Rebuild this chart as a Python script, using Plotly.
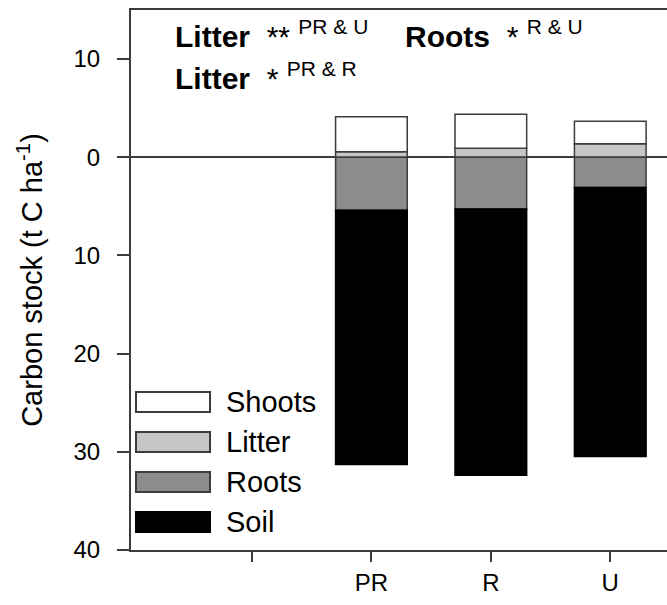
import plotly.graph_objects as go

# Carbon stock components per site (t C ha-1)
sites = ["PR", "R", "U"]
shoots = [3.58, 3.45, 2.31]
litter = [0.55, 0.92, 1.37]
roots = [5.40, 5.28, 3.07]
soil = [25.90, 27.10, 27.40]

# x categories (a blank slot precedes the sites) and y tick labels
x_categories = [" ", "PR", "R", "U"]
y_tickvals = [-40, -30, -20, -10, 0, 10]
y_ticktext = ["40", "30", "20", "10", "0", "10"]

legend_names = ["Shoots", "Litter", "Roots", "Soil"]
colors = {"Shoots": "#ffffff", "Litter": "#c6c6c6", "Roots": "#8c8c8c", "Soil": "#000000"}

FONT = "Liberation Sans, Arial, sans-serif"
EDGE = "#3c3c3c"

fig = go.Figure()

# Above-ground pools stack upwards, below-ground pools stack downwards
series = [
    ("Litter", litter, 1),
    ("Shoots", shoots, 1),
    ("Roots", roots, -1),
    ("Soil", soil, -1),
]
for name, vals, sign in series:
    fig.add_trace(go.Bar(
        x=sites,
        y=[sign * v for v in vals],
        name=name,
        width=0.6,
        marker=dict(color=colors[name],
                    line=dict(color="#000000" if name == "Soil" else EDGE, width=1.5)),
        showlegend=False,
    ))

# Plot area in pixels
L, T, B, H, W = 131, 10, 55, 605, 667
pw, ph = W - L, H - T - B


def px(x):
    return (x - L) / pw


def py(y):
    return (H - B - y) / ph


# Legend drawn as wide swatches with labels
shapes = []
annotations = []
for i, name in enumerate(legend_names):
    cy = 402 + 40 * i
    shapes.append(dict(
        type="rect", xref="paper", yref="paper",
        x0=px(136), x1=px(210), y0=py(cy + 10), y1=py(cy - 10),
        fillcolor=colors[name],
        line=dict(color="#000000" if name == "Soil" else EDGE, width=2),
        layer="above",
    ))
    annotations.append(dict(
        xref="paper", yref="paper", x=px(224), y=py(cy),
        xanchor="left", yanchor="middle", text=name, showarrow=False,
        font=dict(family=FONT, size=29, color="#000000"),
    ))

# Significance notes
notes = [
    ("<b>Litter</b>  ** <sup>PR & U</sup>", 173, 13),
    ("<b>Litter</b>  * <sup>PR & R</sup>", 173, 55),
    ("<b>Roots</b>  * <sup>R & U</sup>", 403, 13),
]
for text, x, y in notes:
    annotations.append(dict(
        xref="paper", yref="paper", x=px(x), y=py(y),
        xanchor="left", yanchor="top", text=text, showarrow=False,
        font=dict(family=FONT, size=30, color="#000000"),
    ))

fig.update_layout(
    barmode="relative",
    width=W, height=H,
    margin=dict(l=L, r=0, t=T, b=B),
    paper_bgcolor="#ffffff", plot_bgcolor="#ffffff",
    font=dict(family=FONT, color="#000000"),
    shapes=shapes,
    annotations=annotations,
    xaxis=dict(
        type="category",
        categoryorder="array", categoryarray=x_categories,
        tickmode="array", tickvals=x_categories, ticktext=x_categories,
        range=[-1.013, 3.475],
        showline=True, linecolor=EDGE, linewidth=2, mirror=True,
        ticks="outside", ticklen=10, tickwidth=1.5, tickcolor=EDGE,
        tickfont=dict(family=FONT, size=24, color="#000000"),
        showgrid=False, zeroline=False,
    ),
    yaxis=dict(
        range=[-40, 15],
        tickmode="array", tickvals=y_tickvals, ticktext=y_ticktext,
        showline=True, linecolor=EDGE, linewidth=2, mirror=False,
        ticks="outside", ticklen=12, tickwidth=1.5, tickcolor=EDGE,
        ticklabelstandoff=12,
        tickfont=dict(family=FONT, size=24, color="#000000"),
        showgrid=False,
        zeroline=True, zerolinecolor=EDGE, zerolinewidth=1.5,
        title=dict(text="Carbon stock (t C ha<sup>-1</sup>)",
                   font=dict(family=FONT, size=29, color="#000000"),
                   standoff=22),
    ),
)

fig.write_html("out.html")
